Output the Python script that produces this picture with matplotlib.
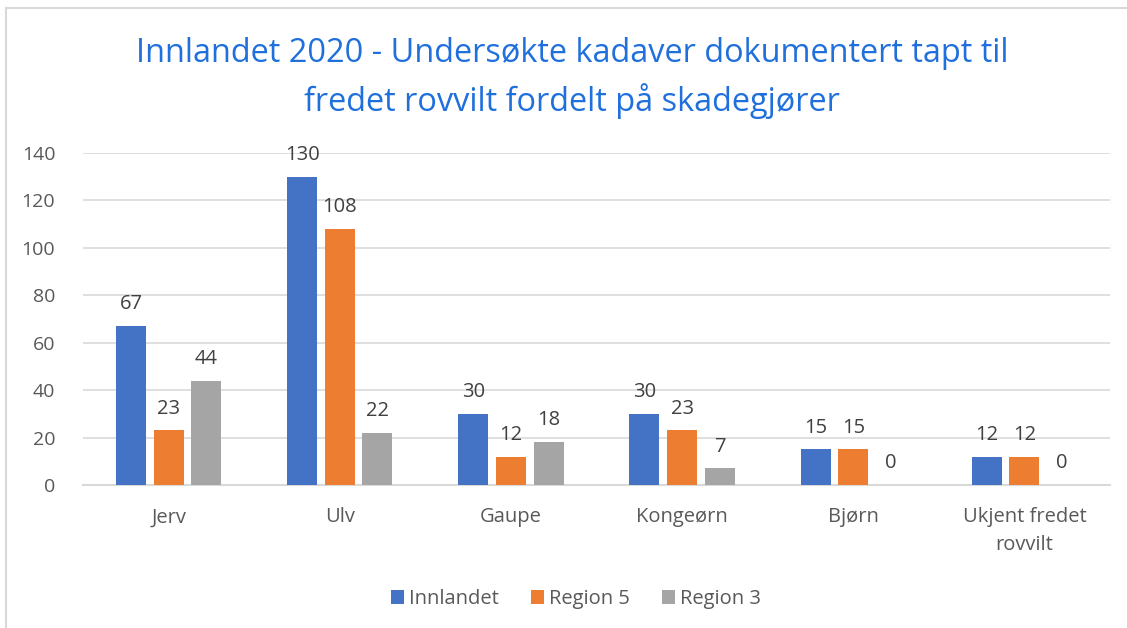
import matplotlib.pyplot as plt
import numpy as np
from matplotlib.lines import Line2D

categories = ["Jerv", "Ulv", "Gaupe", "Kongeørn", "Bjørn", "Ukjent fredet\nrovvilt"]
innlandet = [67, 130, 30, 30, 15, 12]
region5 = [23, 108, 12, 23, 15, 12]
region3 = [44, 22, 18, 7, 0, 0]
series_names = ["Innlandet", "Region 5", "Region 3"]
colors = ["#4472C4", "#ED7D31", "#A5A5A5"]

plt.rcParams['font.family'] = ['Open Sans', 'DejaVu Sans']

fig = plt.figure(figsize=(11.27, 6.28), dpi=100)
ax = fig.add_axes([83 / 1127, 1 - 485 / 628, (1110 - 83) / 1127, (485 - 153) / 628])

x = np.arange(len(categories))
w = 0.175
step = 0.22
for k, vals in enumerate([innlandet, region5, region3]):
    pos = x + (k - 1) * step
    ax.bar(pos, vals, width=w, color=colors[k], label=series_names[k], zorder=3)
    for p, v in zip(pos, vals):
        ax.text(p, v + 5, str(v), ha="center", va="bottom", fontsize=14.5, color="#404040")

ax.set_xlim(-0.5, len(categories) - 0.5)
ax.set_ylim(0, 140)
ax.set_yticks(range(0, 141, 20))
ax.set_xticks(x)
ax.set_xticklabels(categories, fontsize=14.5, color="#595959", linespacing=1.5)
ax.tick_params(axis="y", labelsize=14, labelcolor="#595959", length=0, pad=20)
ax.tick_params(axis="x", length=0, pad=16)
ax.grid(axis="y", color="#D9D9D9", linewidth=1.2, zorder=0)
for s in ["top", "right", "left"]:
    ax.spines[s].set_visible(False)
ax.spines["bottom"].set_color("#D9D9D9")
ax.spines["bottom"].set_linewidth(1.5)

fig.text(572 / 1127, 1 - 54 / 628, "Innlandet 2020 - Undersøkte kadaver dokumentert tapt til",
         ha="center", va="center", fontsize=23.4, color="#1F6FDC")
fig.text(572 / 1127, 1 - 101 / 628, "fredet rovvilt fordelt på skadegjører",
         ha="center", va="center", fontsize=23.4, color="#1F6FDC")

fig.legend(loc="center", bbox_to_anchor=(576 / 1127, 1 - 599 / 628), ncol=3, frameon=False,
           fontsize=14.5, handlelength=0.65, handleheight=0.65, handletextpad=0.25,
           columnspacing=1.6, labelcolor="#595959")

# frame of the chart box (cropped on right and bottom)
fig.add_artist(Line2D([6 / 1127, 6 / 1127], [0, 1 - 8 / 628], color="#D9D9D9", linewidth=1.5))
fig.add_artist(Line2D([6 / 1127, 1], [1 - 8 / 628, 1 - 8 / 628], color="#D9D9D9", linewidth=1.5))

fig.savefig("out.png", dpi=100)
